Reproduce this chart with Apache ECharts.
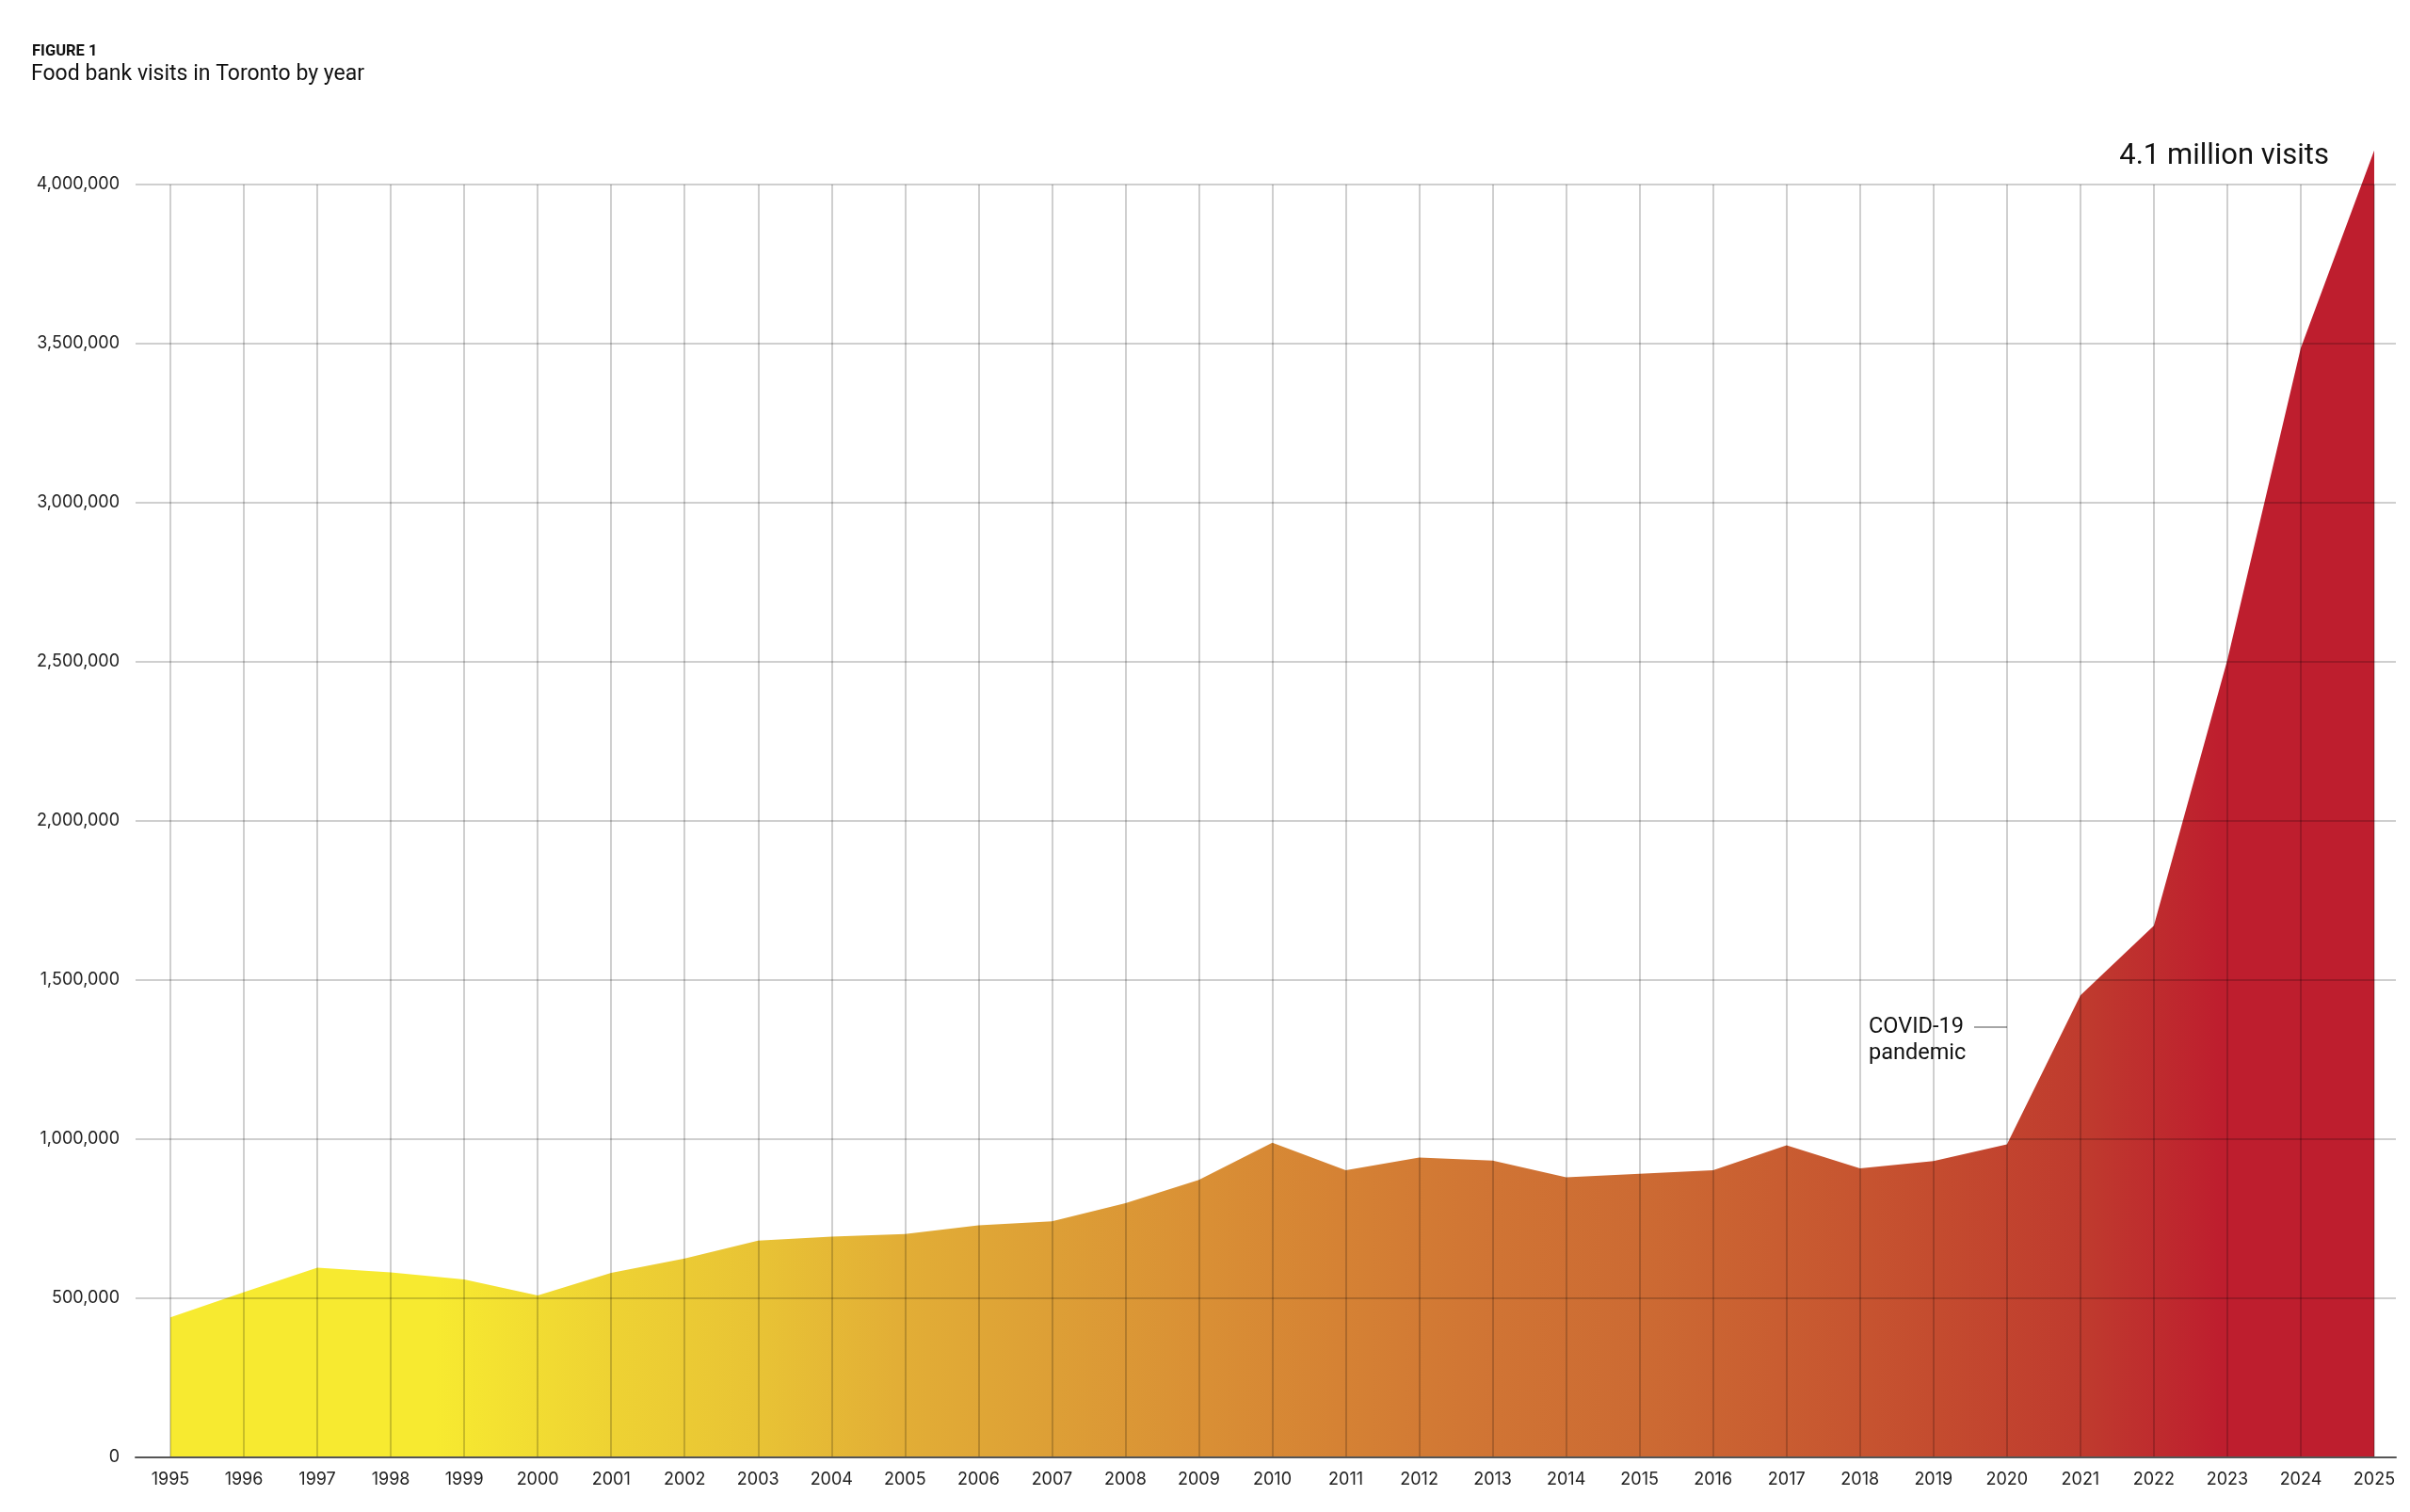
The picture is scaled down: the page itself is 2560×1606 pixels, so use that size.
<!DOCTYPE html>
<html>
<head>
<meta charset="utf-8">
<script src="https://cdn.jsdelivr.net/npm/echarts@6/dist/echarts.min.js"></script>
<style>
html,body{margin:0;padding:0;background:#fff;}
#chart{width:2560px;height:1606px;}
</style>
</head>
<body>
<div id="chart"></div>
<script>
const years = ['1995','1996','1997','1998','1999','2000','2001','2002','2003','2004','2005','2006','2007','2008','2009','2010','2011','2012','2013','2014','2015','2016','2017','2018','2019','2020','2021','2022','2023','2024','2025'];
const visits = [440000,519000,596000,581000,559000,509000,580000,625000,681000,694000,702000,729000,742000,799000,872000,989000,902000,942000,933000,880000,891000,902000,981000,908000,931000,984000,1452000,1671000,2505000,3486000,4107000];
const yTicks = [0,500000,1000000,1500000,2000000,2500000,3000000,3500000,4000000];

const FONT = 'Inter';
const TFONT = 'Roboto';
const chart = echarts.init(document.getElementById('chart'), null, {renderer:'canvas'});
const gridTop = 196, gridBottom = 58;
const option = {
  backgroundColor:'#ffffff',
  animation:false,
  grid:[
    {left:144, right:15, top:gridTop, bottom:gridBottom},
    {left:181, right:38, top:gridTop, bottom:gridBottom}
  ],
  xAxis:[
    {gridIndex:0, type:'value', min:0, max:1, z:5,
     axisLine:{show:true, onZero:false, lineStyle:{color:'#555', width:2}},
     axisTick:{show:false}, axisLabel:{show:false}, splitLine:{show:false}},
    {gridIndex:1, type:'category', data:years, boundaryGap:false, z:4,
     axisLine:{show:false}, axisTick:{show:false},
     axisLabel:{show:true, color:'#222', fontFamily:FONT, fontSize:18, margin:15, interval:0},
     splitLine:{show:true, interval:0, lineStyle:{color:'rgba(0,0,0,0.25)', width:1.5}}}
  ],
  yAxis:[
    {gridIndex:0, type:'value', min:yTicks[0], max:yTicks[yTicks.length-1], interval:500000, z:4,
     axisLine:{show:false}, axisTick:{show:false},
     axisLabel:{color:'#222', fontFamily:FONT, fontSize:18, margin:17,
       formatter:v=>v.toLocaleString('en-US')},
     splitLine:{show:true, lineStyle:{color:'rgba(0,0,0,0.25)', width:1.5}}},
    {gridIndex:1, type:'value', min:yTicks[0], max:yTicks[yTicks.length-1], interval:500000, show:false,
     splitLine:{show:false}}
  ],
  series:[{
    type:'line', xAxisIndex:1, yAxisIndex:1, data:visits, z:2, clip:false,
    symbol:'none', smooth:false,
    lineStyle:{width:0},
    areaStyle:{opacity:1, color:new echarts.graphic.LinearGradient(0,0,1,0,[
      {offset:0, color:'#F7EA30'},
      {offset:0.12, color:'#F7EA30'},
      {offset:0.2, color:'#EED233'},
      {offset:0.27, color:'#E8C235'},
      {offset:0.33, color:'#E2AE36'},
      {offset:0.4, color:'#DD9F36'},
      {offset:0.47, color:'#D98F35'},
      {offset:0.53, color:'#D58234'},
      {offset:0.6, color:'#D07434'},
      {offset:0.67, color:'#CC6A33'},
      {offset:0.73, color:'#C95D31'},
      {offset:0.8, color:'#C44C2F'},
      {offset:0.87, color:'#BF3A2E'},
      {offset:0.93, color:'#BE1E2E'},
      {offset:1, color:'#BE1E2E'}
    ])}
  }],
  graphic:[
    {type:'text', left:34, top:46, style:{text:'FIGURE 1', fontFamily:TFONT, fontWeight:'bold', fontSize:16.5, fill:'#111', letterSpacing:1}},
    {type:'text', left:33, top:68, style:{text:'Food bank visits in Toronto by year', fontFamily:TFONT, fontSize:23, fill:'#111'}},
    {type:'text', right:2560-2474, top:151, style:{text:'4.1 million visits', fontFamily:TFONT, fontSize:31, fill:'#111', align:'right'}},
    {type:'text', left:1985, top:1077, style:{text:'COVID-19\npandemic', fontFamily:TFONT, fontSize:23.5, lineHeight:28, fill:'#111'}},
    {type:'line', shape:{x1:2097, y1:1091, x2:2132, y2:1091}, style:{stroke:'#888', lineWidth:1.5}}
  ]
};
chart.setOption(option);
</script>
</body>
</html>
